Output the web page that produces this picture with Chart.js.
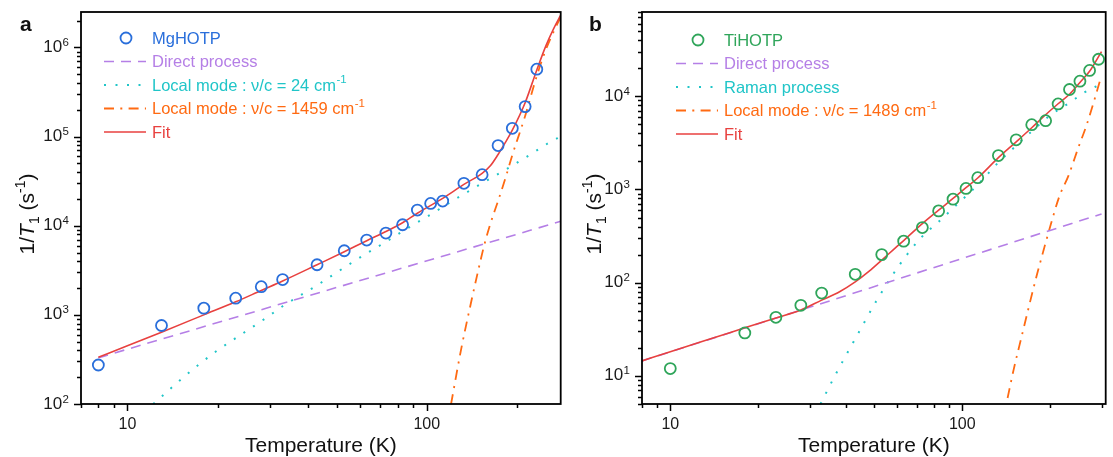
<!DOCTYPE html>
<html>
<head>
<meta charset="utf-8">
<script src="https://cdn.jsdelivr.net/npm/chart.js@4.4.1/dist/chart.umd.min.js"></script>
<style>
  html, body { margin: 0; padding: 0; background: #fff; }
  #wrap { position: relative; width: 1113px; height: 457px; overflow: hidden; }
  #chartA { position: absolute; left: 0; top: 0; }
  #chartB { position: absolute; left: 568px; top: 0; }
</style>
</head>
<body>
<div id="wrap">
  <canvas id="chartA" width="568" height="457"></canvas>
  <canvas id="chartB" width="545" height="457"></canvas>
</div>
<script>
// ---- panel a : MgHOTP ----
const mgTemp = [8, 13, 18, 23, 28, 33, 43, 53, 63, 73, 83, 93, 103, 113, 133, 153, 173, 193, 213, 233];
const mgRate = [274, 760, 1190, 1540, 2070, 2490, 3650, 5240, 6900, 8280, 10260, 15000, 17800, 18900, 29900, 37400, 79300, 124000, 217000, 571000];

const mgDirectT = [8, 280];
const mgDirectY = [330, 11200];

const mgLocal24T = [12.2, 15, 17.4, 20, 23.4, 29, 33, 43, 53, 63, 73, 85, 100, 128, 150, 182, 220, 260, 280];
const mgLocal24Y = [100, 185, 280, 400, 570, 920, 1250, 2150, 3400, 4900, 6600, 9100, 12600, 21000, 28800, 42000, 62000, 88000, 100000];

const mgLocal1459T = [120.5, 130, 140, 148, 155, 163, 173, 183, 193, 213, 233, 250, 265, 280];
const mgLocal1459Y = [100, 400, 1300, 3000, 5800, 10500, 19000, 34000, 62000, 170000, 480000, 950000, 1500000, 2200000];

const mgFitT = [8, 10, 13, 18, 23, 28, 33, 43, 53, 63, 73, 83, 93, 113, 133, 153, 163, 173, 183, 193, 213, 233, 250, 265, 280];
const mgFitY = [335, 450, 640, 1000, 1400, 1880, 2400, 3650, 5100, 6800, 8600, 10800, 13800, 20300, 29100, 38700, 47000, 63000, 86000, 118000, 240000, 560000, 1050000, 1620000, 2300000];

// ---- panel b : TiHOTP ----
const tiTemp = [10, 18, 23, 28, 33, 43, 53, 63, 73, 83, 93, 103, 113, 133, 153, 173, 193, 213, 233, 253, 273, 293];
const tiRate = [12.0, 28.9, 42.5, 57.2, 77.4, 123, 200, 279, 390, 589, 787, 1026, 1336, 2307, 3405, 4945, 5460, 8260, 11800, 14500, 18900, 24900];

const tiDirectT = [8, 300];
const tiDirectY = [14.5, 546];

const tiRamanT = [32.7, 36.6, 43, 51, 60.5, 72, 83, 93, 113, 133, 153, 173, 201, 233, 260, 300];
const tiRamanY = [5, 10, 25, 65, 150, 300, 450, 630, 1120, 1950, 2950, 4200, 6300, 8500, 10800, 13600];

const tiLocal1489T = [143, 150, 160, 170, 180, 190, 201, 215, 231, 250, 266, 280, 297];
const tiLocal1489Y = [5.8, 11.7, 27, 59, 120, 224, 420, 840, 1400, 2830, 4800, 8000, 15000];

const tiFitT = [8, 10, 13, 18, 23, 28, 33, 38, 43, 48, 53, 58, 63, 73, 83, 93, 103, 113, 133, 153, 173, 193, 213, 233, 253, 273, 293, 300];
const tiFitY = [14.5, 18.2, 23.7, 32.8, 41.9, 51, 65, 80, 102, 133, 175, 225, 283, 430, 600, 800, 1047, 1326, 2190, 3240, 4590, 6330, 8300, 10500, 14060, 18500, 26600, 30100];

// axis ticks
const xTicksA = [7, 8, 9, 10, 20, 30, 40, 50, 60, 70, 80, 90, 100, 200];
const xTicksB = [8, 9, 10, 20, 30, 40, 50, 60, 70, 80, 90, 100, 200, 300];
const xLabels = [10, 100];

const BLUE = "#2a6fdb";
const GREEN = "#2fa55a";
const PURPLE = "#b57fe6";
const CYAN = "#20c5c8";
const ORANGE = "#ff6a12";
const RED = "#e8413f";
const FONT = "'Liberation Sans', Arial, sans-serif";

function pts(xs, ys) {
  return xs.map((x, i) => ({ x: x, y: ys[i] }));
}

function logTicks(min, max) {
  const out = [];
  for (let d = Math.floor(Math.log10(min)); d <= Math.ceil(Math.log10(max)); d++) {
    for (let k = 1; k <= 9; k++) {
      const v = k * Math.pow(10, d);
      if (v >= min * 0.999 && v <= max * 1.001) out.push({ value: v, major: k === 1 });
    }
  }
  return out;
}

// frame around the plot area, tick marks (major long, minor short), y labels 10^n
const frameTicks = {
  id: "frameTicks",
  afterDraw(chart) {
    const ctx = chart.ctx;
    const { left, right, top, bottom } = chart.chartArea;
    const xs = chart.scales.x;
    const ys = chart.scales.y;
    ctx.save();
    ctx.strokeStyle = "#000";
    ctx.lineWidth = 1.5;
    ctx.beginPath();
    xs.ticks.forEach((t) => {
      const px = Math.round(xs.getPixelForValue(t.value)) + 0.5;
      ctx.moveTo(px, bottom);
      ctx.lineTo(px, bottom + (t.major ? 7 : 4));
    });
    ys.ticks.forEach((t) => {
      const py = Math.round(ys.getPixelForValue(t.value)) + 0.5;
      ctx.moveTo(left, py);
      ctx.lineTo(left - (t.major ? 7 : 4), py);
    });
    ctx.stroke();
    ctx.lineWidth = 1.8;
    ctx.strokeRect(left, top, right - left, bottom - top);

    // decade labels with a real superscript
    ctx.fillStyle = "#1a1a1a";
    ctx.textAlign = "right";
    ctx.textBaseline = "alphabetic";
    ys.ticks.forEach((t) => {
      if (!t.major) return;
      const py = ys.getPixelForValue(t.value);
      const e = String(Math.round(Math.log10(t.value)));
      const xr = left - 12;
      ctx.font = "11.5px " + FONT;
      const ew = ctx.measureText(e).width;
      ctx.fillText(e, xr, py - 1.5);
      ctx.font = "17px " + FONT;
      ctx.fillText("10", xr - ew - 0.5, py + 4.5);
    });
    ctx.restore();
  },
};

// legend inside the plot, text coloured like its series
const innerLegend = {
  id: "innerLegend",
  afterDraw(chart, args, opts) {
    const ctx = chart.ctx;
    ctx.save();
    ctx.textBaseline = "middle";
    chart.data.datasets.forEach((ds, i) => {
      const y = opts.y0 + i * opts.dy;
      const x0 = opts.x0;
      const w = opts.w;
      ctx.lineWidth = ds.borderWidth;
      ctx.strokeStyle = ds.borderColor;
      if (ds.showLine === false) {
        ctx.setLineDash([]);
        ctx.beginPath();
        ctx.arc(x0 + w / 2 + 1, y, ds.pointRadius, 0, Math.PI * 2);
        ctx.stroke();
      } else {
        ctx.setLineDash(ds.borderDash || []);
        ctx.beginPath();
        ctx.moveTo(x0, y);
        ctx.lineTo(x0 + w, y);
        ctx.stroke();
      }
      ctx.setLineDash([]);
      ctx.fillStyle = ds.borderColor;
      let text = ds.label;
      let sup = "";
      if (text.endsWith("⁻¹")) {
        text = text.slice(0, -2);
        sup = "-1";
      }
      ctx.font = "16.5px " + FONT;
      ctx.fillText(text, x0 + w + 6, y + 1);
      if (sup) {
        const tw = ctx.measureText(text).width;
        ctx.font = "11.5px " + FONT;
        ctx.fillText(sup, x0 + w + 6 + tw + 0.5, y - 5);
      }
    });
    ctx.restore();
  },
};

// rotated y title 1/T1 (s-1) and the panel letter
const sideText = {
  id: "sideText",
  afterDraw(chart, args, opts) {
    const ctx = chart.ctx;
    ctx.save();
    ctx.fillStyle = "#111";
    ctx.font = "bold 21px " + FONT;
    ctx.textBaseline = "alphabetic";
    ctx.fillText(opts.letter, opts.letterX, 31);

    const big = "21px " + FONT;
    const ital = "italic 21px " + FONT;
    const small = "14px " + FONT;
    const parts = [
      { t: "1/", f: big, dy: 0 },
      { t: "T", f: ital, dy: 0 },
      { t: "1", f: small, dy: 5 },
      { t: " (s", f: big, dy: 0 },
      { t: "-1", f: small, dy: -9 },
      { t: ")", f: big, dy: 0 },
    ];
    let total = 0;
    parts.forEach((p) => {
      ctx.font = p.f;
      p.w = ctx.measureText(p.t).width;
      total += p.w;
    });
    ctx.translate(opts.titleX, opts.titleY);
    ctx.rotate(-Math.PI / 2);
    let x = -total / 2;
    parts.forEach((p) => {
      ctx.font = p.f;
      ctx.fillText(p.t, x, 7 + p.dy);
      x += p.w;
    });
    ctx.restore();
  },
};

function buildChart(canvasId, cfg) {
  const lineBase = { showLine: true, pointRadius: 0, fill: false, cubicInterpolationMode: "monotone" };
  return new Chart(document.getElementById(canvasId), {
    type: "scatter",
    data: {
      datasets: [
        {
          label: cfg.name,
          data: pts(cfg.temp, cfg.rate),
          showLine: false,
          pointStyle: "circle",
          pointRadius: 5.5,
          pointBorderWidth: 1.8,
          borderWidth: 1.8,
          borderColor: cfg.markColor,
          pointBorderColor: cfg.markColor,
          backgroundColor: "rgba(0,0,0,0)",
          pointBackgroundColor: "rgba(0,0,0,0)",
          order: 0,
        },
        Object.assign({}, lineBase, {
          label: "Direct process",
          data: pts(cfg.directT, cfg.directY),
          borderColor: PURPLE,
          borderWidth: 1.6,
          borderDash: [10, 7],
          order: 2,
        }),
        Object.assign({}, lineBase, {
          label: cfg.secondLabel,
          data: pts(cfg.secondT, cfg.secondY),
          borderColor: CYAN,
          borderWidth: 2,
          borderDash: [2, 9.5],
          order: 3,
        }),
        Object.assign({}, lineBase, {
          label: cfg.thirdLabel,
          data: pts(cfg.thirdT, cfg.thirdY),
          borderColor: ORANGE,
          borderWidth: 1.8,
          borderDash: [10, 6.3, 2, 6.3],
          order: 4,
        }),
        Object.assign({}, lineBase, {
          label: "Fit",
          data: pts(cfg.fitT, cfg.fitY),
          borderColor: RED,
          borderWidth: 1.6,
          order: 1,
        }),
      ],
    },
    options: {
      responsive: false,
      animation: false,
      devicePixelRatio: 1,
      layout: { padding: { left: 0, top: 12, right: cfg.padRight, bottom: 0 } },
      plugins: {
        legend: { display: false },
        tooltip: { enabled: false },
        innerLegend: cfg.legend,
        sideText: cfg.side,
      },
      scales: {
        x: {
          type: "logarithmic",
          min: cfg.xMin,
          max: cfg.xMax,
          afterBuildTicks: (s) => {
            s.ticks = cfg.xTicks.map((v) => ({ value: v, major: xLabels.includes(v) }));
          },
          afterFit: (s) => {
            s.height = 53;
          },
          grid: { display: false, drawTicks: true, tickLength: 7 },
          border: { display: false },
          ticks: {
            autoSkip: false,
            maxRotation: 0,
            padding: 4,
            color: "#1a1a1a",
            font: { family: FONT, size: 16 },
            callback: (v) => (xLabels.includes(v) ? String(v) : ""),
          },
          title: {
            display: true,
            text: "Temperature (K)",
            color: "#111",
            font: { family: FONT, size: 21 },
            padding: { top: 0, bottom: -2 },
          },
        },
        y: {
          type: "logarithmic",
          min: cfg.yMin,
          max: cfg.yMax,
          afterBuildTicks: (s) => {
            s.ticks = logTicks(cfg.yMin, cfg.yMax);
          },
          afterFit: (s) => {
            s.width = cfg.yWidth;
          },
          grid: { display: false },
          border: { display: false },
          ticks: {
            display: false,
            autoSkip: false,
            callback: (v) => {
              const e = Math.log10(v);
              return Math.abs(e - Math.round(e)) < 1e-6 ? "10^" + Math.round(e) : "";
            },
          },
        },
      },
    },
    plugins: [frameTicks, innerLegend, sideText],
  });
}

buildChart("chartA", {
  name: "MgHOTP",
  markColor: BLUE,
  temp: mgTemp,
  rate: mgRate,
  directT: mgDirectT,
  directY: mgDirectY,
  secondLabel: "Local mode : ν/c = 24 cm⁻¹",
  secondT: mgLocal24T,
  secondY: mgLocal24Y,
  thirdLabel: "Local mode : ν/c = 1459 cm⁻¹",
  thirdT: mgLocal1459T,
  thirdY: mgLocal1459Y,
  fitT: mgFitT,
  fitY: mgFitY,
  xMin: 7,
  xMax: 280,
  xTicks: xTicksA,
  yMin: 100,
  yMax: 2.5e6,
  yWidth: 81,
  padRight: 6,
  legend: { x0: 104, w: 42, y0: 38, dy: 23.5 },
  side: { letter: "a", letterX: 20, titleX: 27, titleY: 214 },
});

buildChart("chartB", {
  name: "TiHOTP",
  markColor: GREEN,
  temp: tiTemp,
  rate: tiRate,
  directT: tiDirectT,
  directY: tiDirectY,
  secondLabel: "Raman process",
  secondT: tiRamanT,
  secondY: tiRamanY,
  thirdLabel: "Local mode : ν/c = 1489 cm⁻¹",
  thirdT: tiLocal1489T,
  thirdY: tiLocal1489Y,
  fitT: tiFitT,
  fitY: tiFitY,
  xMin: 8,
  xMax: 310,
  xTicks: xTicksB,
  yMin: 5,
  yMax: 8e4,
  yWidth: 74,
  padRight: 5,
  legend: { x0: 108, w: 42, y0: 40, dy: 23.5 },
  side: { letter: "b", letterX: 21, titleX: 26, titleY: 214 },
});
</script>
</body>
</html>
